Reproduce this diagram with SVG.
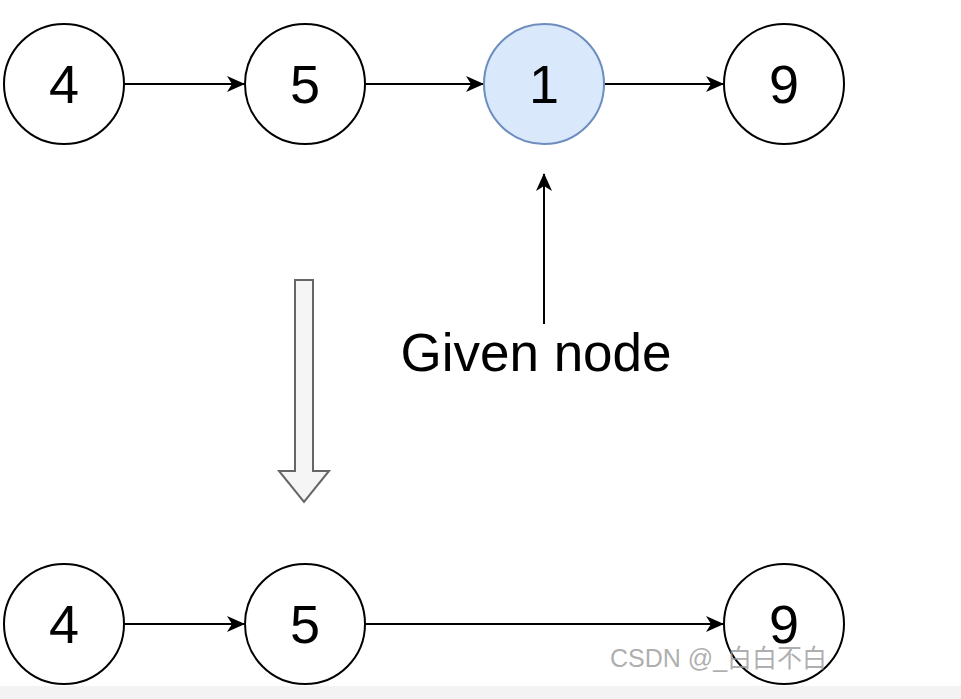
<svg xmlns="http://www.w3.org/2000/svg" width="961" height="699" viewBox="0 0 961 699">
<style>
.n{fill:#fff;stroke:#000;stroke-width:2}
.b{fill:#dae8fc;stroke:#6c8ebf;stroke-width:2}
.t{font-family:"Liberation Sans",Arial,sans-serif;font-size:54px;fill:#000;text-anchor:middle}
.e{stroke:#000;stroke-width:2;fill:none;marker-end:url(#ah)}
</style>
<defs>
<marker id="ah" viewBox="0 0 18 16" refX="17" refY="8" markerWidth="18" markerHeight="16" markerUnits="userSpaceOnUse" orient="auto">
<path d="M0,0 L18,8 L0,16 L5,8 Z" fill="#000"/>
</marker>
</defs>
<rect width="961" height="699" fill="#fff"/>
<rect x="0" y="686" width="961" height="13" fill="#f3f3f3"/>
<g id="connectors">
<line class="e" x1="125" y1="84" x2="244" y2="84"/>
<line class="e" x1="366" y1="84" x2="483" y2="84"/>
<line class="e" x1="605" y1="84" x2="723" y2="84"/>
<line class="e" x1="544" y1="324" x2="544" y2="174"/>
<line class="e" x1="125" y1="624" x2="244" y2="624"/>
<line class="e" x1="366" y1="624" x2="723" y2="624"/>
</g>
<g id="n4a"><circle class="n" cx="64" cy="84" r="60"/><text class="t" x="64" y="103">4</text></g>
<g id="n5a"><circle class="n" cx="305" cy="84" r="60"/><text class="t" x="305" y="103">5</text></g>
<g id="n1a"><circle class="b" cx="544" cy="84" r="60"/><text class="t" x="544" y="103">1</text></g>
<g id="n9a"><circle class="n" cx="784" cy="84" r="60"/><text class="t" x="784" y="103">9</text></g>
<g id="label"><text x="536" y="371" style="font-family:'Liberation Sans',Arial,sans-serif;font-size:53px;fill:#000;text-anchor:middle">Given node</text></g>
<g id="bigarrow"><path d="M295,280 H313 V471 H329 L304,502 L279,471 H295 Z" fill="#f5f5f5" stroke="#666" stroke-width="2"/></g>
<g id="n4b"><circle class="n" cx="64" cy="624" r="60"/><text class="t" x="64" y="643">4</text></g>
<g id="n5b"><circle class="n" cx="305" cy="624" r="60"/><text class="t" x="305" y="643">5</text></g>
<g id="n9b"><circle class="n" cx="784" cy="624" r="60"/><text class="t" x="784" y="643">9</text></g>
<text x="610" y="667" style="font-family:'Liberation Sans','Noto Sans CJK SC',sans-serif;font-size:25px;fill:#999;fill-opacity:0.8">CSDN @_白白不白</text>
</svg>
